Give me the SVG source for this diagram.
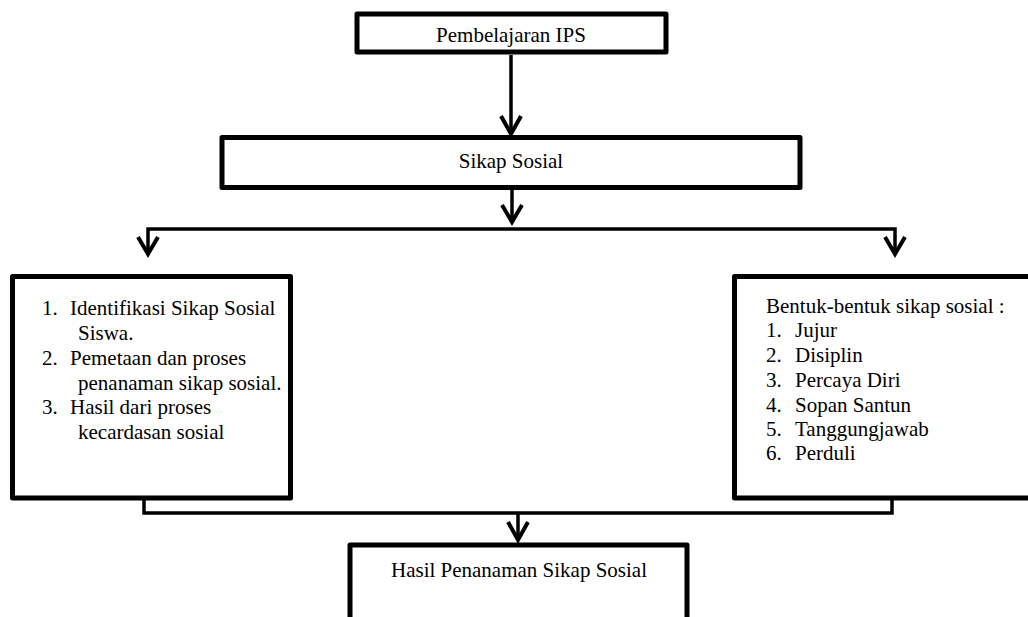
<svg xmlns="http://www.w3.org/2000/svg" width="1028" height="617" viewBox="0 0 1028 617">
<style>
.box{fill:#fff;stroke:#000;stroke-width:5;stroke-linejoin:round}
.t{font-family:"Liberation Serif","Times New Roman",serif;font-size:21px;fill:#000}
.c{text-anchor:middle}
.ln{fill:none;stroke:#000;stroke-width:3.5}
.ah{fill:none;stroke:#000;stroke-width:4;stroke-linejoin:miter}
</style>
<rect width="1028" height="617" fill="#fff"/>
<g id="node-pembelajaran">
<rect class="box" x="357" y="14" width="309" height="38"/>
<text class="t c" x="511" y="42">Pembelajaran IPS</text>
</g>
<g id="node-sikap">
<rect class="box" x="222" y="137.5" width="578" height="50"/>
<text class="t c" x="511" y="168">Sikap Sosial</text>
</g>
<g id="node-left">
<rect class="box" x="12.5" y="276.5" width="278" height="221.5"/>
<text class="t" y="315"><tspan x="42">1.</tspan><tspan x="70">Identifikasi Sikap Sosial</tspan></text>
<text class="t" x="78" y="340">Siswa.</text>
<text class="t" y="365"><tspan x="42">2.</tspan><tspan x="70">Pemetaan dan proses</tspan></text>
<text class="t" x="78" y="390">penanaman sikap sosial.</text>
<text class="t" y="414"><tspan x="42">3.</tspan><tspan x="70">Hasil dari proses</tspan></text>
<text class="t" x="78" y="439">kecardasan sosial</text>
</g>
<g id="node-right">
<rect class="box" x="734.5" y="276.5" width="320" height="221.5"/>
<text class="t" x="766" y="313">Bentuk-bentuk sikap sosial :</text>
<text class="t" y="337"><tspan x="766">1.</tspan><tspan x="795">Jujur</tspan></text>
<text class="t" y="362"><tspan x="766">2.</tspan><tspan x="795">Disiplin</tspan></text>
<text class="t" y="387"><tspan x="766">3.</tspan><tspan x="795">Percaya Diri</tspan></text>
<text class="t" y="412"><tspan x="766">4.</tspan><tspan x="795">Sopan Santun</tspan></text>
<text class="t" y="436"><tspan x="766">5.</tspan><tspan x="795">Tanggungjawab</tspan></text>
<text class="t" y="460"><tspan x="766">6.</tspan><tspan x="795">Perduli</tspan></text>
</g>
<g id="node-hasil">
<rect class="box" x="350" y="545" width="337" height="100"/>
<text class="t c" x="519" y="577">Hasil Penanaman Sikap Sosial</text>
</g>
<g id="connectors">
<line class="ln" x1="511" y1="55" x2="511" y2="134"/>
<polyline class="ah" points="501,116 511,134 521,116"/>
<line class="ln" x1="512" y1="190" x2="512" y2="222"/>
<polyline class="ah" points="502,205 512,222 522,205"/>
<polyline class="ln" points="148,255 148,229 895,229 895,255"/>
<polyline class="ah" points="138,237 148,254 158,237"/>
<polyline class="ah" points="885,237 895,254 905,237"/>
<polyline class="ln" points="144,498 144,513 892,513 892,498"/>
<line class="ln" x1="518" y1="513" x2="518" y2="540"/>
<polyline class="ah" points="508,522 518,540 528,522"/>
</g>
</svg>
